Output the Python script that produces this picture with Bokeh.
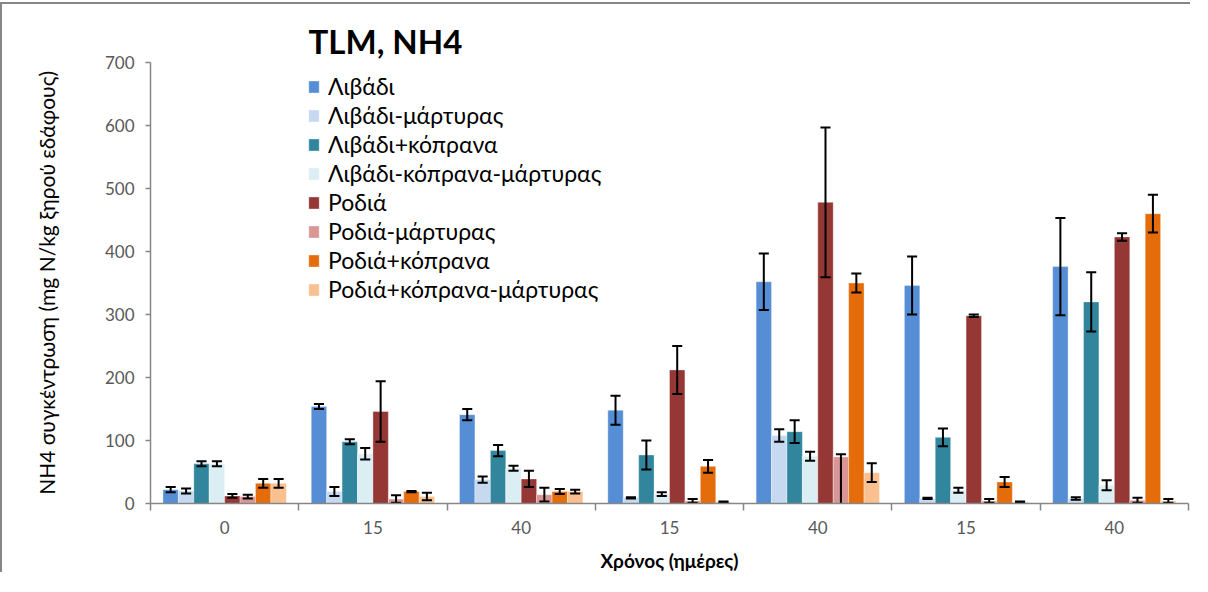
from bokeh.plotting import figure
from bokeh.models import (ColumnDataSource, Range1d, FixedTicker, Legend, LegendItem)
from bokeh.embed import file_html
from bokeh.resources import INLINE

# ---------------- data ----------------
groups = ["0", "15", "40", "15", "40", "15", "40"]

series_names = ["Λιβάδι", "Λιβάδι-μάρτυρας", "Λιβάδι+κόπρανα", "Λιβάδι-κόπρανα-μάρτυρας",
                "Ροδιά", "Ροδιά-μάρτυρας", "Ροδιά+κόπρανα", "Ροδιά+κόπρανα-μάρτυρας"]
colors = ["#558ED5", "#C6D9F1", "#31859C", "#DBEEF4", "#953735", "#D99694", "#E46C0A", "#FAC090"]

livadi = [22, 154, 141, 148, 352, 346, 376]
livadi_err = [4, 4, 9, 23, 45, 46, 77]
livadi_m = [20, 19, 38, 9, 108, 8, 8]
livadi_m_err = [4, 7, 5, 1, 10, 1, 2]
livadi_k = [63, 98, 84, 77, 114, 105, 320]
livadi_k_err = [4, 4, 9, 23, 18, 14, 47]
livadi_km = [63, 79, 56, 15, 75, 21, 29]
livadi_km_err = [4, 9, 4, 3, 7, 4, 8]
rodia = [12, 146, 39, 212, 478, 298, 423]
rodia_err = [3, 48, 13, 38, 119, 2, 6]
rodia_m = [11, 7, 14, 4, 74, 4, 5]
rodia_m_err = [3, 6, 11, 3, 4, 3, 4]
rodia_m_err_minus = [3, 6, 11, 3, 80, 3, 4]
rodia_k = [32, 19, 19, 59, 350, 34, 460]
rodia_k_err = [7, 1, 4, 10, 15, 8, 30]
rodia_km = [32, 11, 19, 2, 49, 2, 4]
rodia_km_err = [7, 6, 3, 1, 15, 1, 3]

values = [livadi, livadi_m, livadi_k, livadi_km, rodia, rodia_m, rodia_k, rodia_km]
errs_plus = [livadi_err, livadi_m_err, livadi_k_err, livadi_km_err,
             rodia_err, rodia_m_err, rodia_k_err, rodia_km_err]
errs_minus = [livadi_err, livadi_m_err, livadi_k_err, livadi_km_err,
              rodia_err, rodia_m_err_minus, rodia_k_err, rodia_km_err]

y_ticks = [0, 100, 200, 300, 400, 500, 600, 700]

FONT = "Lato"
W, H = 1190, 570

p = figure(width=W, height=H, output_backend="svg", toolbar_location=None,
           x_range=Range1d(0, len(groups)), y_range=Range1d(0, 700),
           min_border_left=148, min_border_right=4, min_border_top=58, min_border_bottom=69,
           title="TLM,  NH4")
p.styles = {"border-left": "2px solid #868686", "border-top": "2px solid #868686", "margin-top": "2px"}
p.outline_line_color = None
p.xgrid.grid_line_color = None
p.ygrid.grid_line_color = None
p.background_fill_color = "white"
p.border_fill_color = "white"

p.title.align = "left"
p.title.vertical_align = "top"
p.title.offset = 158
p.title.text_font = FONT
p.title.text_font_style = "bold"
p.title.text_font_size = "33px"
p.title.text_color = "#000000"
p.title.standoff = 0

n = len(series_names)
bw = 0.104
centers = [i + 0.5 for i in range(len(groups))]
cap = 0.034

renderers = []
for s in range(n):
    xs = [c + (s - (n - 1) / 2) * bw for c in centers]
    src = ColumnDataSource(dict(
        x=xs, top=values[s],
        lo=[v - e for v, e in zip(values[s], errs_minus[s])],
        hi=[v + e for v, e in zip(values[s], errs_plus[s])],
        xl=[x - cap for x in xs], xr=[x + cap for x in xs]))
    r = p.vbar(x="x", top="top", bottom=0, width=bw, source=src,
               fill_color=colors[s], line_color="white", line_alpha=0.35, line_width=1)
    renderers.append(r)
    p.segment(x0="x", y0="lo", x1="x", y1="hi", source=src, line_color="black", line_width=2)
    p.segment(x0="xl", y0="hi", x1="xr", y1="hi", source=src, line_color="black", line_width=2)
    p.segment(x0="xl", y0="lo", x1="xr", y1="lo", source=src, line_color="black", line_width=2)

# axes
xa = p.xaxis[0]
xa.ticker = FixedTicker(ticks=centers, minor_ticks=list(range(len(groups) + 1)))
xa.major_label_overrides = {c: g for c, g in zip(centers, groups)}
xa.major_tick_line_color = None
xa.major_tick_out = 6
xa.major_tick_in = 0
xa.minor_tick_line_color = "#868686"
xa.minor_tick_line_width = 1.5
xa.minor_tick_out = 7
xa.minor_tick_in = 0
xa.axis_line_color = "#868686"
xa.axis_line_width = 1.5
xa.major_label_text_font = FONT
xa.major_label_text_font_size = "17px"
xa.major_label_text_color = "#595959"
xa.major_label_standoff = 10
xa.axis_label = "Χρόνος (ημέρες)"
xa.axis_label_text_font = FONT
xa.axis_label_text_font_style = "bold"
xa.axis_label_text_font_size = "19px"
xa.axis_label_text_color = "#000000"
xa.axis_label_standoff = 12

ya = p.yaxis[0]
ya.ticker = FixedTicker(ticks=y_ticks)
ya.minor_tick_line_color = None
ya.major_tick_out = 5
ya.major_tick_in = 0
ya.major_tick_line_color = "#868686"
ya.major_tick_line_width = 1.5
ya.axis_line_color = "#868686"
ya.axis_line_width = 1.5
ya.major_label_text_font = FONT
ya.major_label_text_font_size = "17px"
ya.major_label_text_color = "#595959"
ya.major_label_standoff = 11
ya.axis_label = "NH4 συγκέντρωση (mg N/kg ξηρού εδάφους)"
ya.axis_label_text_font = FONT
ya.axis_label_text_font_style = "normal"
ya.axis_label_text_font_size = "21px"
ya.axis_label_text_color = "#000000"
ya.axis_label_standoff = 43

# legend
legend = Legend(items=[LegendItem(label=nm, renderers=[r]) for nm, r in zip(series_names, renderers)],
                location=(157, 200), orientation="vertical",
                label_text_font=FONT, label_text_font_size="23px", label_text_color="#000000",
                glyph_width=13, glyph_height=15, label_height=20, spacing=1, padding=0, margin=0,
                label_standoff=8, border_line_color=None, background_fill_alpha=0)
p.add_layout(legend, "center")

open("out.html", "w").write(file_html(p, INLINE))
